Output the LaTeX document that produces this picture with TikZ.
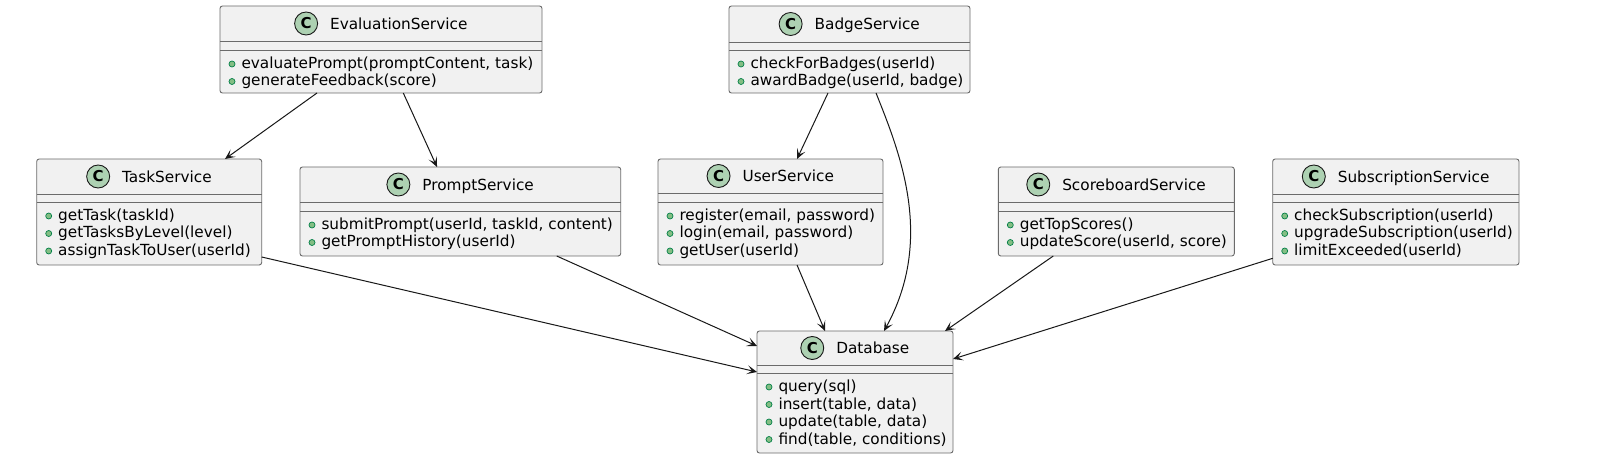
\documentclass[tikz,border=0pt]{standalone}
\usepackage{fontspec}
\setmainfont{DejaVu Sans}
\usetikzlibrary{arrows.meta,calc}
\definecolor{boxfill}{HTML}{F1F1F1}
\definecolor{boxline}{HTML}{6B6B6B}
\definecolor{iconfill}{HTML}{ADD1B2}
\definecolor{dotfill}{HTML}{84BE84}
\definecolor{dotline}{HTML}{038048}
\definecolor{ink}{HTML}{181818}
\tikzset{
 cls/.style={rectangle, draw=boxline, fill=boxfill, line width=0.9bp, rounded corners=2.5bp, inner sep=0pt, outer sep=0pt},
 sepl/.style={draw=boxline, line width=0.9bp},
 ttl/.style={inner sep=0pt, outer sep=0pt, text height=11bp, text depth=3.5bp, font=\fontsize{15.3bp}{17bp}\selectfont, text=black},
 memtxt/.style={inner sep=0pt, outer sep=0pt, font=\fontsize{15.3bp}{17bp}\selectfont, text=black},
 cicon/.style={circle, draw=ink, fill=iconfill, line width=0.9bp, minimum size=23bp, inner sep=0pt, font=\fontsize{15bp}{15bp}\selectfont\bfseries},
 vdot/.style={draw=dotline, fill=dotfill, line width=0.7bp},
 arr/.style={draw=ink, line width=1bp, -{Stealth[length=10bp,width=9bp,inset=5bp]}},
}
% #1 name, #2 x1, #3 y1, #4 x2, #5 y2, #6 sep1, #7 sep2, #8 title
\newcommand\classbox[8]{%
  \pgfmathsetmacro\cbw{#4-#2}\pgfmathsetmacro\cbh{#5-#3}%
  \pgfmathsetmacro\cbcx{(#2+#4)/2+17.75}\pgfmathsetmacro\cbhy{(#3+#6)/2+6}%
  \node[cls, anchor=north west, minimum width=\cbw bp, minimum height=\cbh bp] (#1) at (#2,#3) {};
  \draw[sepl] (#2,#6) -- (#4,#6);
  \draw[sepl] (#2,#7) -- (#4,#7);
  \node[ttl, anchor=base] (#1-t) at (\cbcx,\cbhy) {#8};
  \node[cicon] (#1-c) at ($(#1-t.west)+(-24,-2.25)$) {C};
}
% #1 name, #2 x1, #3 sep2, #4 index, #5 text
\newcommand\memline[5]{%
  \pgfmathsetmacro\mby{#3+18.5+17.5*#4}%
  \draw[vdot] (#2+12,\mby-4.5) circle[radius=3bp];
  \node[memtxt, anchor=base west] (#1) at (#2+21.5,\mby) {#5};
}
\begin{document}
\begin{tikzpicture}[x=1bp,y=-1bp]
\useasboundingbox[fill=white] (0,0) rectangle (1600,469);

\classbox{eval}{220}{6}{542}{93}{41}{50}{EvaluationService}
\memline{eval-m1}{220}{50}{0}{evaluatePrompt(promptContent, task)}
\memline{eval-m2}{220}{50}{1}{generateFeedback(score)}

\classbox{badge}{729}{6}{970}{93}{42}{50}{BadgeService}
\memline{badge-m1}{729}{50}{0}{checkForBadges(userId)}
\memline{badge-m2}{729}{50}{1}{awardBadge(userId, badge)}

\classbox{task}{36.7}{159}{261.7}{265}{194}{202}{TaskService}
\memline{task-m1}{36.7}{202}{0}{getTask(taskId)}
\memline{task-m2}{36.7}{202}{1}{getTasksByLevel(level)}
\memline{task-m3}{36.7}{202}{2}{assignTaskToUser(userId)}

\classbox{prompt}{300}{167}{620.7}{256}{202}{211}{PromptService}
\memline{prompt-m1}{300}{211}{0}{submitPrompt(userId, taskId, content)}
\memline{prompt-m2}{300}{211}{1}{getPromptHistory(userId)}

\classbox{user}{658}{159}{883}{265}{193}{202}{UserService}
\memline{user-m1}{658}{202}{0}{register(email, password)}
\memline{user-m2}{658}{202}{1}{login(email, password)}
\memline{user-m3}{658}{202}{2}{getUser(userId)}

\classbox{score}{998.3}{167}{1234.3}{256}{202}{211}{ScoreboardService}
\memline{score-m1}{998.3}{211}{0}{getTopScores()}
\memline{score-m2}{998.3}{211}{1}{updateScore(userId, score)}

\classbox{subs}{1272.7}{159}{1519}{265}{194}{202}{SubscriptionService}
\memline{subs-m1}{1272.7}{202}{0}{checkSubscription(userId)}
\memline{subs-m2}{1272.7}{202}{1}{upgradeSubscription(userId)}
\memline{subs-m3}{1272.7}{202}{2}{limitExceeded(userId)}

\classbox{db}{757}{331}{953}{453}{365}{373}{Database}
\memline{db-m1}{757}{373}{0}{query(sql)}
\memline{db-m2}{757}{373}{1}{insert(table, data)}
\memline{db-m3}{757}{373}{2}{update(table, data)}
\memline{db-m4}{757}{373}{3}{find(table, conditions)}

% connectors
\draw[arr] ([xshift=97bp]eval.south west) -- ([xshift=188.3bp]task.north west);
\draw[arr] ([xshift=183.3bp]eval.south west) -- ([xshift=137bp]prompt.north west);
\draw[arr] ([xshift=99bp]badge.south west) -- ([xshift=139bp]user.north west);
\draw[arr] ([xshift=147bp]badge.south west) .. controls (900,153) and (934.7,239) .. ([xshift=127bp]db.north west);
\draw[arr] ([xshift=139bp]user.south west) -- ([xshift=68bp]db.north west);
\draw[arr] ([yshift=8bp]task.south east) -- ([yshift=-41bp]db.north west);
\draw[arr] ([xshift=256.7bp]prompt.south west) -- ([yshift=-15bp]db.north west);
\draw[arr] ([xshift=55bp]score.south west) -- ([xshift=188bp]db.north west);
\draw[arr] ([yshift=6.7bp]subs.south west) -- ([yshift=-28bp]db.north east);
\end{tikzpicture}
\end{document}
